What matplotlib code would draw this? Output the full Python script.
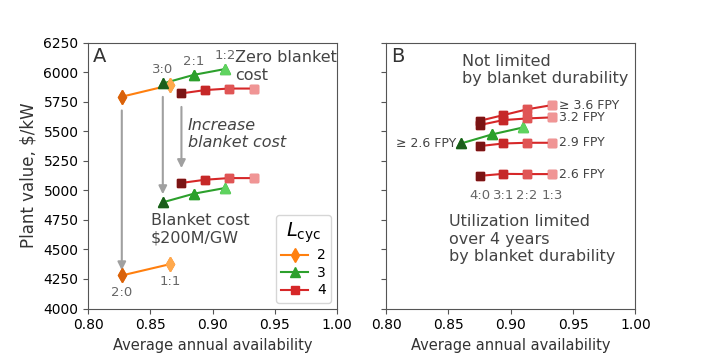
import matplotlib.pyplot as plt

# panel A: zero blanket cost (top) and $200M/GW blanket cost (bottom)
avail_2 = [0.827, 0.866]
avail_3 = [0.860, 0.885, 0.910]
avail_4 = [0.875, 0.894, 0.913, 0.933]

zero_2 = [5793, 5891]
zero_3 = [5905, 5978, 6027]
zero_4 = [5821, 5849, 5862, 5862]

cost_2 = [4280, 4376]
cost_3 = [4899, 4972, 5020]
cost_4 = [5063, 5090, 5104, 5104]

ratio_2 = ["2:0", "1:1"]
ratio_3 = ["3:0", "2:1", "1:2"]
ratio_4 = ["4:0", "3:1", "2:2", "1:3"]

# panel B: 4-year cycle limited by blanket durability
fpy_labels = ["\u2265 3.6 FPY", "3.2 FPY", "2.9 FPY", "2.6 FPY"]
fpy_4 = [
    [5589, 5637, 5686, 5722],
    [5553, 5595, 5609, 5618],
    [5375, 5397, 5403, 5403],
    [5123, 5140, 5138, 5138],
]
green_b = [5397, 5474, 5533]

orange_shades = ["#d9620b", "#ffa94d"]
green_shades = ["#1b5e1b", "#2ca02c", "#5fd35f"]
red_shades = ["#7a1414", "#c62828", "#e05555", "#f09595"]

txt = "#444444"
lab = "#666666"

plt.rcParams["axes.edgecolor"] = "#555555"
plt.rcParams["xtick.color"] = "#555555"
plt.rcParams["ytick.color"] = "#555555"
plt.rcParams["xtick.labelcolor"] = "black"
plt.rcParams["ytick.labelcolor"] = "black"

fig = plt.figure(figsize=(7.06, 3.53), dpi=100)
ax1 = fig.add_axes([0.125, 0.126, 0.352, 0.753])
ax2 = fig.add_axes([0.547, 0.126, 0.353, 0.753], sharey=ax1)


def series(ax, x, y, color, marker, shades, ms, label=None):
    ax.plot(x, y, color=color, marker=marker, ms=ms, label=label,
            markerfacecolor=color, markeredgecolor=color, lw=1.5, zorder=2)
    for xi, yi, c in zip(x, y, shades):
        ax.plot(xi, yi, marker=marker, ms=ms, color=c, zorder=3)


# arrows first so lines sit on top
arrow = dict(arrowstyle="-|>", color="#a0a0a0", lw=1.5, mutation_scale=12)
ax1.annotate("", xy=(avail_2[0], cost_2[0] + 20), xytext=(avail_2[0], 5700), arrowprops=arrow)
ax1.annotate("", xy=(avail_3[0], cost_3[0] + 45), xytext=(avail_3[0], 5815), arrowprops=arrow)
ax1.annotate("", xy=(avail_4[0], 5165), xytext=(avail_4[0], 5730), arrowprops=arrow)

series(ax1, avail_2, zero_2, "#ff7f0e", "d", orange_shades, 7, "2")
series(ax1, avail_3, zero_3, "#2ca02c", "^", green_shades, 7, "3")
series(ax1, avail_4, zero_4, "#d62728", "s", red_shades, 6, "4")
series(ax1, avail_2, cost_2, "#ff7f0e", "d", orange_shades, 7)
series(ax1, avail_3, cost_3, "#2ca02c", "^", green_shades, 7)
series(ax1, avail_4, cost_4, "#d62728", "s", red_shades, 6)

for x, y, r in zip(avail_3, zero_3, ratio_3):
    ax1.text(x, y + 60, r, ha="center", va="bottom", color=lab, fontsize=9.5)
for x, y, r in zip(avail_2, cost_2, ratio_2):
    ax1.text(x, y - 90, r, ha="center", va="top", color=lab, fontsize=9.5)

ax1.text(0.02, 0.985, "A", transform=ax1.transAxes, fontsize=14, va="top", color="#333333")
ax1.text(0.918, 6048, "Zero blanket\ncost", fontsize=11.5, color=txt, va="center")
ax1.text(0.880, 5476, "Increase\nblanket cost", fontsize=11.5, color=txt, va="center",
         style="italic")
ax1.text(0.8505, 4670, "Blanket cost\n$200M/GW", fontsize=11.5, color=txt, va="center")

leg = ax1.legend(title=r"$L_\mathrm{cyc}$", loc="lower right", fontsize=10,
                 title_fontsize=14, numpoints=1, handlelength=1.9,
                 labelspacing=0.25, handletextpad=0.65, borderaxespad=0.4)

ax1.set_xlim(0.8, 1.0)
ax1.set_ylim(4000, 6250)
ax1.set_xticks([0.80, 0.85, 0.90, 0.95, 1.00])
ax1.set_yticks(range(4000, 6251, 250))
ax1.set_xlabel("Average annual availability", fontsize=10.5, color="#333333")
ax1.set_ylabel("Plant value, $/kW", fontsize=12, color="#333333")

# panel B
series(ax2, avail_3, green_b, "#2ca02c", "^", green_shades, 7)
for ys, fl in zip(fpy_4, fpy_labels):
    series(ax2, avail_4, ys, "#d62728", "s", red_shades, 6)
    ax2.text(avail_4[-1] + 0.006, ys[-1], fl, va="center", fontsize=9, color=txt)
ax2.text(avail_3[0] - 0.004, green_b[0], "\u2265 2.6 FPY", ha="right", va="center",
         fontsize=9, color=txt)
for x, r in zip(avail_4, ratio_4):
    ax2.text(x, fpy_4[-1][0] - 110, r, ha="center", va="top", color=lab, fontsize=9.5)

ax2.text(0.02, 0.985, "B", transform=ax2.transAxes, fontsize=14, va="top", color="#333333")
ax2.text(0.8607, 6020, "Not limited\nby blanket durability", fontsize=11.5, color=txt,
         va="center")
ax2.text(0.8505, 4586, "Utilization limited\nover 4 years\nby blanket durability",
         fontsize=11.5, color=txt, va="center")

ax2.set_xlim(0.8, 1.0)
ax2.set_xticks([0.80, 0.85, 0.90, 0.95, 1.00])
ax2.tick_params(labelleft=False)
ax2.set_xlabel("Average annual availability", fontsize=10.5, color="#333333")

fig.savefig("out.png", dpi=100)
